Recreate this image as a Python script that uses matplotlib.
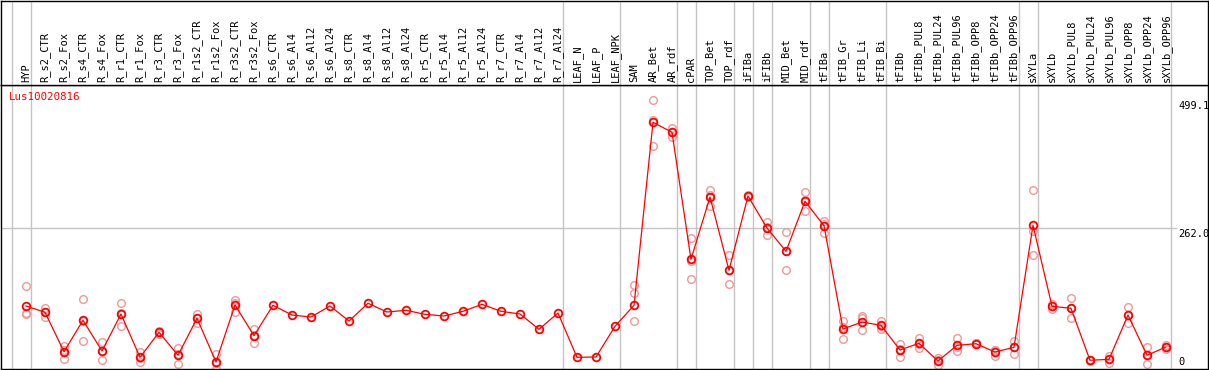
import matplotlib
matplotlib.use("Agg")
import matplotlib.pyplot as plt

# ---- data ----
gene = "Lus10020816"

samples = [
    "HYP", "R_s2_CTR", "R_s2_Fox", "R_s4_CTR", "R_s4_Fox", "R_r1_CTR", "R_r1_Fox",
    "R_r3_CTR", "R_r3_Fox", "R_r1s2_CTR", "R_r1s2_Fox", "R_r3s2_CTR", "R_r3s2_Fox",
    "R_s6_CTR", "R_s6_Al4", "R_s6_Al12", "R_s6_Al24", "R_s8_CTR", "R_s8_Al4",
    "R_s8_Al12", "R_s8_Al24", "R_r5_CTR", "R_r5_Al4", "R_r5_Al12", "R_r5_Al24",
    "R_r7_CTR", "R_r7_Al4", "R_r7_Al12", "R_r7_Al24", "LEAF_N", "LEAF_P", "LEAF_NPK",
    "SAM", "AR_Bet", "AR_rdf", "cPAR", "TOP_Bet", "TOP_rdf", "iFIBa", "iFIBb",
    "MID_Bet", "MID_rdf", "tFIBa", "tFIB_Gr", "tFIB_Li", "tFIB_Bi", "tFIBb",
    "tFIBb_PUL8", "tFIBb_PUL24", "tFIBb_PUL96", "tFIBb_OPP8", "tFIBb_OPP24", "tFIBb_OPP96",
    "sXYLa", "sXYLb", "sXYLb_PUL8", "sXYLb_PUL24", "sXYLb_PUL96", "sXYLb_OPP8",
    "sXYLb_OPP24", "sXYLb_OPP96",
]

means = [
    117.1, 105.4, 32.1, 90.5, 33.4, 102.2, 21.7, 68.2, 25.5, 94.2, 13.0, 118.9, 61.9,
    118.4, 100.3, 96.6, 117.1, 89.2, 122.1, 105.9, 109.1, 101.6, 98.5, 107.2, 120.2,
    107.2, 102.2, 73.8, 104.1, 21.7, 22.3, 79.3,
    118.4, 458.4, 439.8, 203.8, 319.6, 183.4, 321.4, 262.0,
    218.7, 311.6, 266.3, 74.3, 87.3, 81.2, 35.3,
    47.8, 14.9, 44.0, 47.0, 31.6, 40.3,
    267.0, 116.5, 112.8, 16.2, 18.0, 100.3, 25.5, 40.9,
]

replicates = [
    [154.2, 104.6, 101.6], [113.9, 96.1, 106.2], [42.7, 18.0, 35.6], [129.5, 52.0, 90.0],
    [50.2, 16.7, 33.4], [122.6, 79.9, 104.1], [32.1, 13.0, 20.0], [68.7, 65.0, 70.6],
    [39.6, 8.7, 28.2], [102.7, 86.0, 94.0], [27.9, 0.0, 11.1], [128.2, 106.5, 122.0],
    [73.8, 47.8, 64.0],
    [], [], [], [], [], [], [], [], [], [], [], [], [], [], [], [],
    [], [], [],
    [156.1, 140.7, 88.6], [499.1, 413.8, 462.0], [448.3, 431.6, 439.5],
    [243.4, 166.7, 201.0], [332.6, 302.9, 323.0], [211.8, 183.4, 157.9],
    [323.3, 319.6, 321.4], [273.7, 248.4, 264.0],
    [254.0, 183.4, 218.7], [328.3, 293.0, 313.5], [275.5, 253.3, 270.0],
    [89.2, 55.2, 78.5], [98.5, 94.8, 71.9], [89.7, 73.8, 80.0], [46.5, 21.7, 37.7],
    [58.2, 38.5, 46.7], [21.0, 7.4, 16.3], [58.2, 32.9, 41.0], [49.0, 46.0, 47.8],
    [35.3, 24.7, 34.8], [52.0, 28.4, 40.5],
    [332.0, 256.4, 211.3], [120.8, 110.9, 117.8], [131.4, 94.2, 112.8],
    [17.4, 15.0, 16.2], [24.2, 10.6, 19.2], [115.2, 86.0, 99.7], [40.9, 8.7, 26.9],
    [45.2, 37.2, 40.3],
]

# a separator is drawn just after each of these samples (plus one before the first)
group_ends = ["HYP", "R_r7_Al24", "LEAF_NPK", "AR_rdf", "cPAR", "TOP_rdf", "iFIBa",
              "iFIBb", "MID_rdf", "tFIBa", "tFIB_Bi", "tFIBb_OPP96", "sXYLa", "sXYLb_OPP96"]

scale_labels = [499.1, 262.0, 0]
grid_value = 262.0

# ---- layout (pixels) ----
W, H = 1209, 370
px_left, px_right = 1.0, 1207.5
px_header = 85.0
px_bottom = 369.0
x0_px, step_px = 26.0, 19.0
px_per_unit = (px_bottom - 228.0) / grid_value

fig = plt.figure(figsize=(W / 100, H / 100), dpi=100)
fig.patch.set_facecolor("white")

ax = fig.add_axes([px_left / W, (H - px_bottom) / H,
                   (px_right - px_left) / W, (px_bottom - px_header) / H])
top = fig.add_axes([px_left / W, (H - px_header) / H,
                    (px_right - px_left) / W, (px_header - 0.5) / H], sharex=ax)

xlim = ((px_left - x0_px) / step_px, (px_right - x0_px) / step_px)
ax.set_xlim(*xlim)
ax.set_ylim(0, (px_bottom - px_header) / px_per_unit)
top.set_ylim(0, 1)

for a in (ax, top):
    a.set_xticks([])
    a.set_yticks([])
    for s in a.spines.values():
        s.set_color("black")
        s.set_linewidth(1.0)

xs = list(range(len(samples)))

# separators
seps = [-1] + [samples.index(n) for n in group_ends]
for i in seps:
    for a in (ax, top):
        a.axvline(i + 0.25, color="#c4c4c4", lw=1.0, zorder=1)

ax.axhline(grid_value, xmax=(1176 - px_left) / (px_right - px_left),
           color="#c4c4c4", lw=1.0, zorder=1)

# replicate points
for x, reps in zip(xs, replicates):
    if reps:
        ax.plot([x] * len(reps), reps, linestyle="none", marker="o", ms=5.5,
                mfc="none", mec="#f09898", mew=1.0, zorder=2)

# mean line
ax.plot(xs, means, color="red", lw=0.9, marker="o", ms=5.5, mfc="none",
        mec="red", mew=1.3, zorder=3)

# sample labels
for x, name in zip(xs, samples):
    top.text(x, 0.03, name, rotation=90, ha="center", va="bottom",
             family="DejaVu Sans Mono", fontsize=7.5, color="black")

ax.annotate(gene, xy=(0, 1), xycoords="axes fraction", xytext=(8, -12),
            textcoords="offset pixels", ha="left", va="center", color="red",
            family="DejaVu Sans Mono", fontsize=7.8)

for v in scale_labels:
    dy = 7 if v == 0 else -6
    ax.annotate(f"{v:.1f}" if v else "0", xy=(1, v), xycoords=("axes fraction", "data"),
                xytext=(-29, dy), textcoords="offset pixels", ha="left", va="center",
                family="DejaVu Sans Mono", fontsize=7.5, color="black",
                annotation_clip=False)

fig.savefig("out.png", dpi=100)
